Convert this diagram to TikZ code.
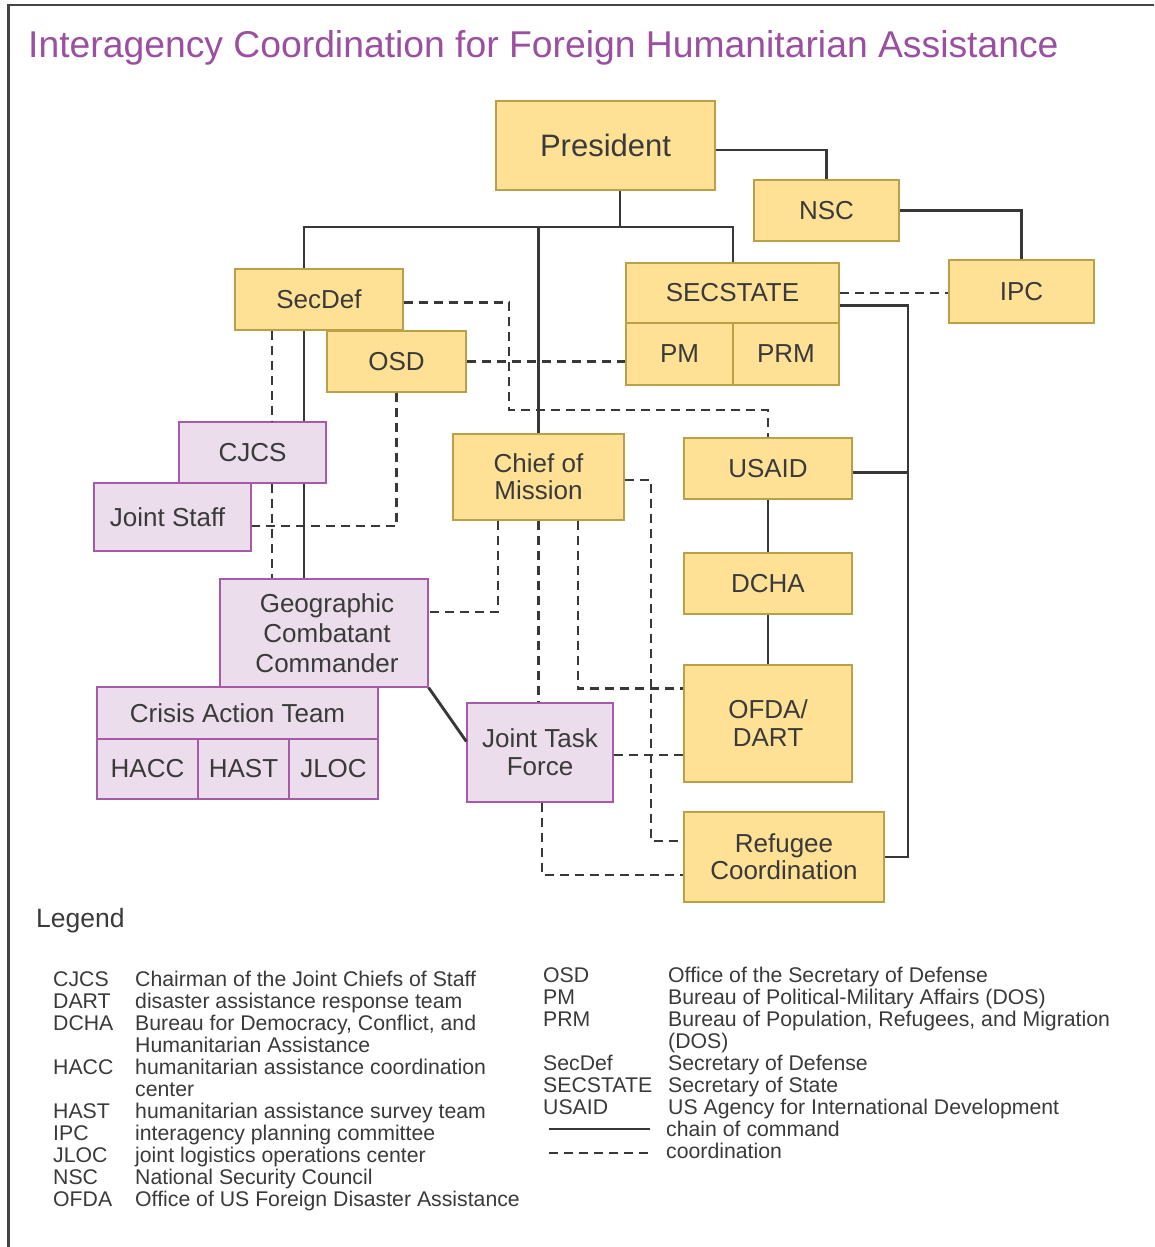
\documentclass[tikz,border=0pt]{standalone}
\usepackage{fontspec}
\setmainfont{Liberation Sans}
\usetikzlibrary{calc}
\definecolor{yfill}{HTML}{FFE196}
\definecolor{yline}{HTML}{BBA04A}
\definecolor{pfill}{HTML}{EBDDEB}
\definecolor{pline}{HTML}{A75AA8}
\definecolor{txt}{HTML}{3A3A3A}
\definecolor{ln}{HTML}{383838}
\definecolor{ttl}{HTML}{9B4FA0}
\definecolor{framec}{HTML}{444444}
\begin{document}
\begin{tikzpicture}[x=1pt,y=-1pt,
 box/.style={inner sep=0pt, align=center, text=txt, font=\fontsize{26}{28}\selectfont, line width=1.3pt},
 ybox/.style={box, fill=yfill, draw=yline},
 pbox/.style={box, fill=pfill, draw=pline},
 cmdline/.style={draw=ln, line width=2.9pt},
 coordline/.style={draw=ln, line width=2.9pt, dash pattern=on 9pt off 6pt},
 leg/.style={anchor=base west, inner sep=0pt, font=\fontsize{21.25}{22}\selectfont, text=txt}]
\useasboundingbox (0,0) rectangle (1154,1247);
% frame
\coordinate (fa) at (8.7,1247);
\coordinate (fb) at (8.7,5);
\coordinate (fc) at (1154,5);
\draw[draw=framec, line width=2.7pt] (fa) -- (fb) -- (fc);
% title
\node[anchor=base west, inner sep=0pt, font=\fontsize{37.3}{40}\selectfont, text=ttl] (title) at (28,58) {Interagency Coordination for Foreign Humanitarian Assistance};
% boxes
\node[ybox, minimum width=219pt, minimum height=89pt, font=\fontsize{31}{33}\selectfont] (pres) at (605.5,145.5) {President};
\node[ybox, minimum width=145pt, minimum height=61pt] (nsc) at (826.5,210.5) {NSC};
\node[ybox, minimum width=168pt, minimum height=61pt] (secdef) at (319,299.5) {SecDef};
\node[ybox, minimum width=139pt, minimum height=61pt] (osd) at (396.5,361.5) {OSD};
\node[ybox, minimum width=213pt, minimum height=60pt] (secstate) at (732.5,293) {SECSTATE};
\node[ybox, minimum width=107pt, minimum height=62pt] (pm) at (679.5,354) {PM};
\node[ybox, minimum width=106pt, minimum height=62pt] (prm) at (786,354) {PRM};
\node[ybox, minimum width=145pt, minimum height=63pt] (ipc) at (1021.5,291.5) {IPC};
\node[pbox, minimum width=147pt, minimum height=61pt] (cjcs) at (252.5,452.5) {CJCS};
\node[pbox, minimum width=157pt, minimum height=68pt] (js) at (172.5,517) {Joint Staff\hspace{10pt}};
\node[ybox, minimum width=171pt, minimum height=86pt, font=\fontsize{26}{27}\selectfont] (com) at (538.5,477) {Chief of\\Mission};
\node[ybox, minimum width=168pt, minimum height=61pt] (usaid) at (768,468.5) {USAID};
\node[ybox, minimum width=168pt, minimum height=61pt] (dcha) at (768,583.5) {DCHA};
\node[pbox, minimum width=208pt, minimum height=108pt, font=\fontsize{26}{30}\selectfont] (gcc) at (324,633) {\hspace*{6pt}Geographic\\\hspace*{6pt}Combatant\\\hspace*{6pt}Commander};
\node[pbox, minimum width=281pt, minimum height=52pt] (cat) at (237.5,713) {Crisis Action Team};
\node[pbox, minimum width=101pt, minimum height=60pt] (hacc) at (147.5,769) {HACC};
\node[pbox, minimum width=91pt, minimum height=60pt] (hast) at (243.5,769) {HAST};
\node[pbox, minimum width=89pt, minimum height=60pt] (jloc) at (333.5,769) {JLOC};
\node[pbox, minimum width=146pt, minimum height=99pt] (jtf) at (540,752.5) {Joint Task\\Force};
\node[ybox, minimum width=168pt, minimum height=117pt] (ofda) at (768,723.5) {OFDA/\\DART};
\node[ybox, minimum width=200pt, minimum height=90pt, font=\fontsize{26}{27}\selectfont] (ref) at (784,857) {Refugee\\Coordination};
% helper coordinates
\coordinate (xsd) at (304,0);
\coordinate (xdsh) at (272,0);
\coordinate (xss) at (733,0);
\coordinate (bar) at (620,227);
\coordinate (xr) at (908,0);
\coordinate (x509) at (509,410);
\coordinate (x498) at (498,0);
\coordinate (x578) at (578,0);
\coordinate (x651) at (651,0);
\coordinate (x542) at (542,0);
\coordinate (ue) at ([yshift=-4pt]usaid.east);
\coordinate (rw1) at ([yshift=16pt]ref.west);
\coordinate (je) at ([yshift=-2.5pt]jtf.east);
% chain of command
\draw[cmdline] ([yshift=-4.5pt]pres.east) -| (nsc.north);
\draw[cmdline] (nsc.east) -| (ipc.north);
\draw[cmdline] (pres.south -| bar) -- (bar);
\draw[cmdline] (xsd |- secdef.north) -- (xsd |- bar) -- (xss |- bar) -- (xss |- secstate.north);
\draw[cmdline] (com.north) -- (com.north |- bar);
\draw[cmdline] (xsd |- secdef.south) -- (xsd |- cjcs.north);
\draw[cmdline] (xsd |- cjcs.south) -- (xsd |- gcc.north);
\draw[cmdline] ([yshift=-12.5pt]secstate.east) -| (xr |- ref.east) -- (ref.east);
\draw[cmdline] (ue) -- (xr |- ue);
\draw[cmdline] (usaid.south) -- (dcha.north);
\draw[cmdline] (dcha.south) -- (ofda.north);
\draw[cmdline] (gcc.south east) -- ([yshift=11pt]jtf.west);
% coordination
\draw[coordline] (xdsh |- secdef.south) -- (xdsh |- cjcs.north);
\draw[coordline] (xdsh |- cjcs.south) -- (xdsh |- gcc.north);
\draw[coordline] (secstate.east) -- (secstate.east -| ipc.west);
\draw[coordline] ([yshift=-3pt]secdef.east) -| (x509) -| (usaid.north);
\draw[coordline] (osd.east) -- (osd.east -| pm.west);
\draw[coordline] (osd.south) |- ([yshift=-9pt]js.east);
\draw[coordline] (x498 |- com.south) |- ([yshift=21pt]gcc.east);
\draw[coordline] (com.south) -- (com.south |- jtf.north);
\draw[coordline] (x578 |- com.south) |- ([yshift=35pt]ofda.west);
\draw[coordline] ([yshift=-3pt]com.east) -| (x651 |- rw1) -- (rw1);
\draw[coordline] (je) -- (je -| ofda.west);
\draw[coordline] (x542 |- jtf.south) |- ([yshift=-18pt]ref.west);
% legend
\node[anchor=base west, inner sep=0pt, font=\fontsize{26.5}{28}\selectfont, text=txt] (legt) at (36,927) {Legend};
\node[leg] (a1) at (53,986) {CJCS};
\node[leg] (d1) at (135,986) {Chairman of the Joint Chiefs of Staff};
\node[leg] (a2) at (53,1008) {DART};
\node[leg] (d2) at (135,1008) {disaster assistance response team};
\node[leg] (a3) at (53,1030) {DCHA};
\node[leg] (d3) at (135,1030) {Bureau for Democracy, Conflict, and};
\node[leg] (d3b) at (135,1052) {Humanitarian Assistance};
\node[leg] (a4) at (53,1074) {HACC};
\node[leg] (d4) at (135,1074) {humanitarian assistance coordination};
\node[leg] (d4b) at (135,1096) {center};
\node[leg] (a5) at (53,1118) {HAST};
\node[leg] (d5) at (135,1118) {humanitarian assistance survey team};
\node[leg] (a6) at (53,1140) {IPC};
\node[leg] (d6) at (135,1140) {interagency planning committee};
\node[leg] (a7) at (53,1162) {JLOC};
\node[leg] (d7) at (135,1162) {joint logistics operations center};
\node[leg] (a8) at (53,1184) {NSC};
\node[leg] (d8) at (135,1184) {National Security Council};
\node[leg] (a9) at (53,1206) {OFDA};
\node[leg] (d9) at (135,1206) {Office of US Foreign Disaster Assistance};
\node[leg] (b1) at (543,982) {OSD};
\node[leg] (e1) at (668,982) {Office of the Secretary of Defense};
\node[leg] (b2) at (543,1004) {PM};
\node[leg] (e2) at (668,1004) {Bureau of Political-Military Affairs (DOS)};
\node[leg] (b3) at (543,1026) {PRM};
\node[leg] (e3) at (668,1026) {Bureau of Population, Refugees, and Migration};
\node[leg] (e3b) at (668,1048) {(DOS)};
\node[leg] (b4) at (543,1070) {SecDef};
\node[leg] (e4) at (668,1070) {Secretary of Defense};
\node[leg] (b5) at (543,1092) {SECSTATE};
\node[leg] (e5) at (668,1092) {Secretary of State};
\node[leg] (b6) at (543,1114) {USAID};
\node[leg] (e6) at (668,1114) {US Agency for International Development};
\coordinate (ls1) at (549,1129);
\coordinate (le1) at (650,1129);
\draw[cmdline] (ls1) -- (le1);
\node[leg] (e7) at (666,1136) {chain of command};
\coordinate (ls2) at (549,1153);
\coordinate (le2) at (650,1153);
\draw[coordline] (ls2) -- (le2);
\node[leg] (e8) at (666,1158) {coordination};
\end{tikzpicture}
\end{document}
